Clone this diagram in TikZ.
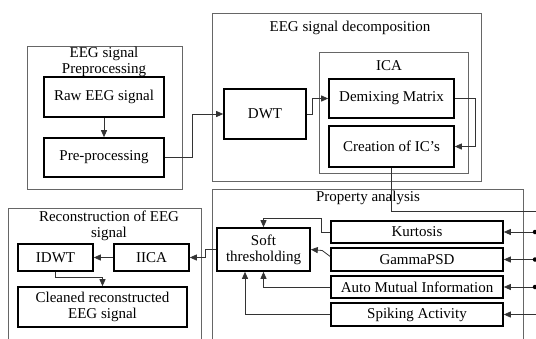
\documentclass[tikz,border=0pt]{standalone}
\usepackage{fontspec}
\setmainfont{Liberation Serif}
\usetikzlibrary{arrows.meta}
\begin{document}
\begin{tikzpicture}[x=1pt,y=-1pt,
  font=\fontsize{15}{16}\selectfont,
  blk/.style={draw=black, line width=1.6pt, inner sep=0pt, align=center},
  grp/.style={draw=black!60, line width=0.8pt, inner sep=0pt},
  ttl/.style={inner sep=0pt, align=center},
  conn/.style={draw=black!80, line width=0.8pt},
  arr/.style={conn, -{Triangle[length=7pt,width=6pt]}},
  jdot/.style={fill=black, circle, inner sep=0pt, minimum size=4.5pt}
]
\useasboundingbox (0,0) rectangle (536,338);
\clip (0,0) rectangle (536,338);

% group frames
\node[grp, minimum width=155pt, minimum height=143pt] (prepgrp) at (104.5,117.5) {};
\node[grp, minimum width=269pt, minimum height=168pt] (decgrp) at (346.5,97) {};
\node[grp, minimum width=149pt, minimum height=121pt] (icagrp) at (393.5,112.5) {};
\node[grp, minimum width=311pt, minimum height=171pt] (propgrp) at (367.5,274.5) {};
\node[grp, minimum width=193pt, minimum height=152pt] (recgrp) at (104.5,284) {};

% group titles
\node[ttl] (prepttl) at (104,62) {EEG signal\\Preprocessing};
\node[ttl] (decttl) at (350,28) {EEG signal decomposition};
\node[ttl] (icattl) at (389,66) {ICA};
\node[ttl] (propttl) at (368,198) {Property analysis};
\node[ttl] (recttl) at (109,226) {Reconstruction of EEG\\signal};

% processing blocks
\node[blk, minimum width=120pt, minimum height=40pt] (raw) at (104,97) {Raw EEG signal};
\node[blk, minimum width=120pt, minimum height=39pt] (pre) at (104,157.5) {Pre-processing};
\node[blk, minimum width=82pt, minimum height=50pt] (dwt) at (265,114) {DWT};
\node[blk, minimum width=125pt, minimum height=39pt] (demix) at (391.5,98.5) {Demixing Matrix};
\node[blk, minimum width=125pt, minimum height=41pt] (ics) at (391.5,146.5) {Creation of IC’s};
\node[blk, minimum width=172pt, minimum height=22pt] (kurt) at (417,232) {Kurtosis};
\node[blk, minimum width=172pt, minimum height=23pt] (gamma) at (417,259.5) {GammaPSD};
\node[blk, minimum width=172pt, minimum height=22pt] (ami) at (417,287) {Auto Mutual Information};
\node[blk, minimum width=172pt, minimum height=23pt] (spike) at (417,314.5) {Spiking Activity};
\node[blk, minimum width=93pt, minimum height=43pt] (soft) at (263.5,249.5) {Soft\\thresholding};
\node[blk, minimum width=75pt, minimum height=27pt] (idwt) at (55.5,257.5) {IDWT};
\node[blk, minimum width=75pt, minimum height=27pt] (iica) at (151.5,257.5) {IICA};
\node[blk, minimum width=169pt, minimum height=40pt] (clean) at (102.5,307) {Cleaned reconstructed\\EEG signal};

% connectors
\draw[arr] (raw) -- (pre);
\draw[arr] (pre.east) -- ++(28,0) |- (dwt.west);
\draw[arr] (dwt.east) -- ++(6,0) |- (demix.west);
\draw[arr] (demix.east) -- ++(21,0) |- (ics.east);

% feature bus on the right
\coordinate (busT) at (538,211);
\coordinate (dotx) at (535,0);
\draw[conn] (ics.south) |- (busT) -- ++(0,110);
\foreach \b in {kurt,gamma,ami,spike}
  \draw[arr] (\b.east -| busT) -- (\b.east);
\foreach \b in {kurt,gamma,ami}
  \node[jdot] at (\b.east -| dotx) {};

% features into soft thresholding
\draw[arr] (kurt.west) -- ++(-9,0) -- ++(0,-14) -| (soft.north);
\draw[arr] ([yshift=3pt]gamma.west) -- ++(-8,-6) -- (soft.east);
\draw[arr] (ami.west) -| (soft.south);
\draw[arr] (spike.west) -| ([xshift=-18.5pt]soft.south);

% reconstruction
\draw[arr] (soft.west) -- ++(-11,0) |- (iica.east);
\draw[arr] (iica) -- (idwt);
\draw[arr] (idwt.south) -- ++(0,6) -| (clean.north);
\end{tikzpicture}
\end{document}
